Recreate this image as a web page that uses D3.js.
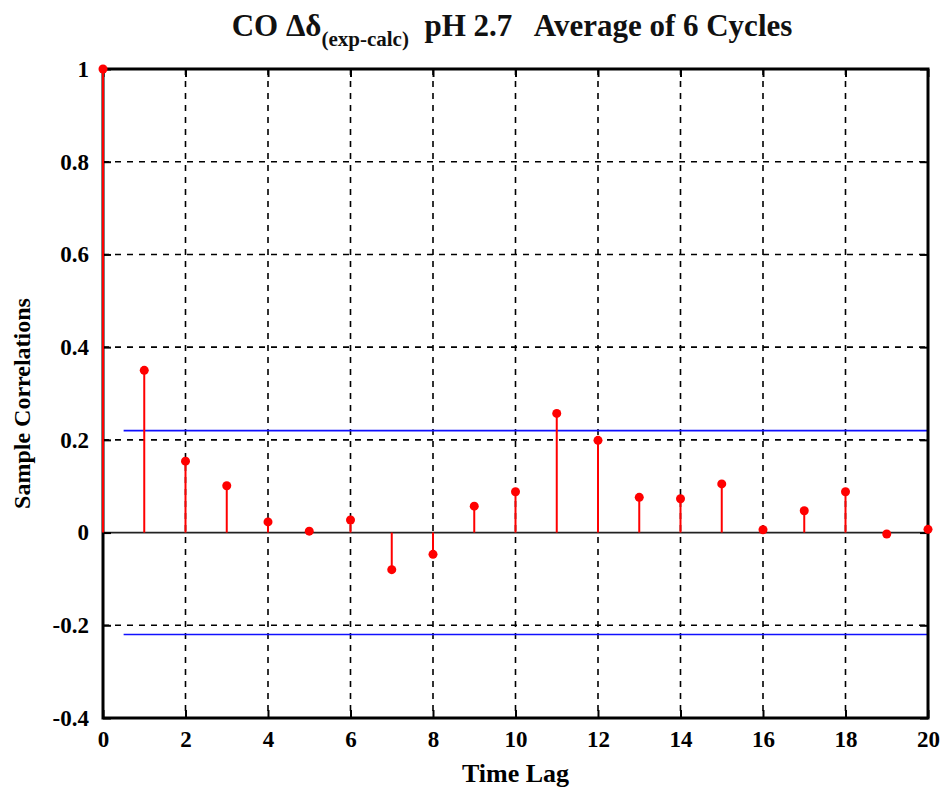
<!DOCTYPE html>
<html><head><meta charset="utf-8">
<script src="https://cdn.jsdelivr.net/npm/d3@7"></script>
<style>body{margin:0;background:#fff;} svg{display:block;} text{white-space:pre;}</style>
</head><body>
<script>
const lags = d3.range(0, 21);
const correlations = [1, 0.35, 0.154, 0.101, 0.023, 0.003, 0.027, -0.08, -0.047, 0.057, 0.088,
  0.257, 0.199, 0.076, 0.073, 0.105, 0.006, 0.047, 0.088, -0.003, 0.007];
const bound = 0.22;
const xTicks = [0,2,4,6,8,10,12,14,16,18,20];
const yTicks = [-0.4,-0.2,0,0.2,0.4,0.6,0.8,1];

const W = 941, H = 787;
const m = {left:103, right:13, top:69, bottom:69};
const svg = d3.select("body").append("svg").attr("width", W).attr("height", H);
const x = d3.scaleLinear().domain([0,20]).range([m.left, W - m.right]);
const y = d3.scaleLinear().domain([-0.4,1]).range([H - m.bottom, m.top]);
const serif = "'Liberation Serif','Times New Roman',serif";

// grid
const g = svg.append("g");
g.selectAll(".vg").data(xTicks.slice(1,-1)).join("line")
  .attr("x1", d=>x(d)).attr("x2", d=>x(d)).attr("y1", y(1)).attr("y2", y(-0.4))
  .attr("stroke","#000").attr("stroke-width",1.6).attr("stroke-dasharray","6,6");
g.selectAll(".hg").data(yTicks.filter(d=>d!==0 && d!==1 && d!==-0.4)).join("line")
  .attr("x1", x(0)).attr("x2", x(20)).attr("y1", d=>y(d)).attr("y2", d=>y(d))
  .attr("stroke","#000").attr("stroke-width",1.6).attr("stroke-dasharray","6,6");

// zero line
svg.append("line").attr("x1",x(0)).attr("x2",x(20)).attr("y1",y(0)).attr("y2",y(0))
  .attr("stroke","#222").attr("stroke-width",1.8);

// confidence bounds
[bound, -bound].forEach(b=>{
  svg.append("line").attr("x1",x(0.5)).attr("x2",x(20)).attr("y1",y(b)).attr("y2",y(b))
    .attr("stroke","#1010ff").attr("stroke-width",1.6);
});

// axes box with inner ticks
const fmtY = d => String(d);
const xAxisB = d3.axisBottom(x).tickValues(xTicks).tickSize(-8).tickPadding(13).tickFormat(d=>String(d));
const xAxisT = d3.axisTop(x).tickValues(xTicks).tickSize(-8).tickFormat("");
const yAxisL = d3.axisLeft(y).tickValues(yTicks).tickSize(-8).tickPadding(14).tickFormat(fmtY);
const yAxisR = d3.axisRight(y).tickValues(yTicks).tickSize(-8).tickFormat("");
function styleAx(sel){
  sel.select(".domain").remove();
  sel.selectAll(".tick line").attr("stroke","#000").attr("stroke-width",2);
  sel.selectAll("text").attr("font-family",serif).attr("font-weight","bold").attr("font-size",23).attr("fill","#000");
}
svg.append("g").attr("transform",`translate(0,${y(-0.4)})`).call(xAxisB).call(styleAx);
svg.append("g").attr("transform",`translate(0,${y(1)})`).call(xAxisT).call(styleAx);
svg.append("g").attr("transform",`translate(${x(0)},0)`).call(yAxisL).call(styleAx);
svg.append("g").attr("transform",`translate(${x(20)},0)`).call(yAxisR).call(styleAx);
svg.append("rect").attr("x",x(0)).attr("y",y(1)).attr("width",x(20)-x(0)).attr("height",y(-0.4)-y(1))
  .attr("fill","none").attr("stroke","#000").attr("stroke-width",3);

// stems
svg.selectAll(".stem").data(lags).join("line")
  .attr("x1",d=>x(d)).attr("x2",d=>x(d)).attr("y1",y(0)).attr("y2",d=>y(correlations[d]))
  .attr("stroke","#ff0000").attr("stroke-width",2);
svg.selectAll(".dot").data(lags).join("circle")
  .attr("cx",d=>x(d)).attr("cy",d=>y(correlations[d])).attr("r",4.5)
  .attr("fill","#ff0000");

// title
const t = svg.append("text").attr("x", 512).attr("y", 36).attr("text-anchor","middle")
  .attr("font-family",serif).attr("font-weight","bold").attr("font-size",31).attr("fill","#111")
  .attr("xml:space","preserve");
t.append("tspan").text("CO Δδ");
t.append("tspan").attr("dy",10).attr("font-size",21).text("(exp-calc)");
t.append("tspan").attr("dy",-10).text("  pH 2.7   Average of 6 Cycles");

// axis labels
svg.append("text").attr("x", (x(0)+x(20))/2).attr("y", 782).attr("text-anchor","middle")
  .attr("font-family",serif).attr("font-weight","bold").attr("font-size",26).text("Time Lag");
svg.append("text").attr("transform",`translate(30,${(y(1)+y(-0.4))/2 + 10}) rotate(-90)`).attr("text-anchor","middle")
  .attr("font-family",serif).attr("font-weight","bold").attr("font-size",24).text("Sample Correlations");
</script>
</body></html>
